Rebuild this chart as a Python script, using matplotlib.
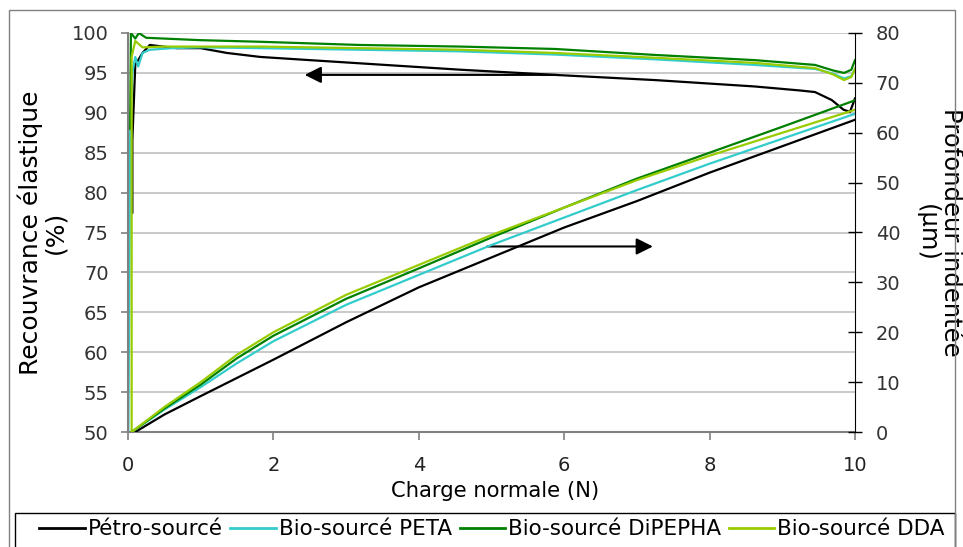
import matplotlib
matplotlib.use("Agg")
import matplotlib.pyplot as plt
from matplotlib.patches import Rectangle

plt.rcParams['font.family'] = ['DejaVu Sans']

# --- series labels / colours ---
labels = ["Pétro-sourcé", "Bio-sourcé PETA", "Bio-sourcé DiPEPHA", "Bio-sourcé DDA"]
colors = ["#000000", "#33CCCC", "#008000", "#99CC00"]

# --- recouvrance elastique (%), left axis ---
petro_rec_x = [0.06, 0.06, 0.1, 0.2, 0.3, 0.67, 1.0, 1.36, 1.82, 2.5, 3.19, 4.57, 5.87, 7.25, 8.62, 9.24, 9.45, 9.68, 9.84, 9.93, 10.0]
petro_rec = [77.5, 86.6, 96.0, 97.5, 98.5, 98.1, 98.1, 97.5, 97.0, 96.6, 96.2, 95.4, 94.75, 94.1, 93.3, 92.8, 92.6, 91.6, 90.4, 90.1, 91.8]

peta_rec_x = [0.005, 0.01, 0.03, 0.06, 0.1, 0.14, 0.2, 0.3, 0.6, 1.0, 1.82, 3.19, 4.57, 5.87, 7.25, 8.62, 9.45, 9.7, 9.85, 9.95, 10.0]
peta_rec = [50.0, 57.0, 88.0, 95.0, 97.0, 95.8, 97.5, 97.9, 98.1, 98.2, 98.1, 97.9, 97.7, 97.3, 96.7, 96.0, 95.5, 94.9, 94.3, 94.6, 95.5]

dipepha_rec_x = [0.03, 0.04, 0.1, 0.15, 0.25, 0.5, 1.0, 1.82, 3.19, 4.57, 5.87, 7.25, 8.62, 9.45, 9.7, 9.85, 9.95, 10.0]
dipepha_rec = [88.0, 100.0, 99.3, 100.0, 99.4, 99.3, 99.1, 98.9, 98.5, 98.3, 98.0, 97.25, 96.6, 96.0, 95.3, 95.0, 95.4, 96.6]

dda_rec_x = [0.05, 0.05, 0.1, 0.2, 0.5, 1.0, 1.82, 3.19, 4.57, 5.87, 7.25, 8.62, 9.45, 9.7, 9.85, 9.95, 10.0]
dda_rec = [50.0, 97.0, 99.0, 98.2, 98.3, 98.3, 98.3, 98.1, 97.9, 97.5, 96.9, 96.25, 95.6, 94.8, 94.1, 94.5, 95.5]

# --- profondeur indentee (um), right axis ---
petro_dep_x = [0.1, 0.5, 1, 2, 3, 4, 5, 6, 7, 8, 9, 10]
petro_dep = [0, 3.5, 7.2, 14.5, 22, 29, 35, 41, 46.3, 52, 57.3, 62.6]

bio_dep_x = [0.05, 0.5, 1, 1.5, 2, 3, 4, 5, 6, 7, 8, 9, 10]
peta_dep = [0, 4.5, 9, 13.8, 18.2, 25.5, 31.5, 37.5, 43, 48.5, 53.8, 58.8, 63.8]
dipepha_dep = [0, 4.7, 9.5, 14.8, 19.3, 26.7, 32.8, 39, 45, 50.8, 56, 61.2, 66.5]
dda_dep = [0, 5, 10, 15.5, 20, 27.5, 33.5, 39.5, 45, 50.5, 55.4, 60, 64.6]

# arrows pointing each group to its axis
arrow_left = ((5.9, 94.75), (2.43, 94.75))
arrow_right = ((4.94, 73.25), (7.22, 73.25))

fig = plt.figure(figsize=(9.63, 5.47), dpi=100)
ax = fig.add_axes([128/963, 1-432/547, (855-128)/963, (432-33)/547])
ax2 = ax.twinx()

rec_sets = [(petro_rec_x, petro_rec), (peta_rec_x, peta_rec),
            (dipepha_rec_x, dipepha_rec), (dda_rec_x, dda_rec)]
dep_sets = [(petro_dep_x, petro_dep), (bio_dep_x, peta_dep),
            (bio_dep_x, dipepha_dep), (bio_dep_x, dda_dep)]

handles = []
for (xs, ys), c, lab in zip(rec_sets, colors, labels):
    h, = ax.plot(xs, ys, color=c, lw=1.6, label=lab)
    handles.append(h)
for (xs, ys), c in zip(dep_sets, colors):
    ax2.plot(xs, ys, color=c, lw=1.6)

# left axis
ax.set_xlim(0, 10)
ax.set_ylim(50, 100)
ax.set_xticks(range(0, 11, 2))
ax.set_yticks(range(50, 101, 5))
ax.grid(axis='y', color='#C0C0C0', lw=1.2)
ax.set_axisbelow(True)
for s in ['top', 'right']:
    ax.spines[s].set_visible(False)
ax.spines['left'].set_color('#808080')
ax.spines['bottom'].set_color('#808080')
ax.spines['left'].set_linewidth(1.5)
ax.spines['bottom'].set_linewidth(1.5)
ax.tick_params(axis='y', direction='out', length=5, width=1.2, color='#808080', pad=9, labelsize=14, labelcolor='#333333')
ax.tick_params(axis='x', direction='out', length=6, width=1.2, color='#808080', pad=11, labelsize=14, labelcolor='#222222')

# right axis
ax2.set_ylim(0, 80)
ax2.set_yticks(range(0, 81, 10))
for s in ['top', 'left', 'bottom']:
    ax2.spines[s].set_visible(False)
ax2.spines['right'].set_color('#000000')
ax2.tick_params(axis='y', direction='inout', length=10, width=1.0, pad=10, labelsize=14, labelcolor='#333333')

ax.set_xlabel("Charge normale (N)", fontsize=15.2)
ax.xaxis.set_label_coords(0.505, -0.123)
ax.set_ylabel("Recouvrance élastique\n(%)", fontsize=18, linespacing=1.0, va='center')
ax.yaxis.set_label_coords(-0.118, 0.5)
ax2.set_ylabel("Profondeur indentée\n(µm)", fontsize=17.5, rotation=270, linespacing=1.0, va='center')
ax2.yaxis.set_label_coords(1.116, 0.5)

for tail, head in [arrow_left, arrow_right]:
    ax.annotate("", xy=head, xytext=tail,
                arrowprops=dict(arrowstyle='-|>', color='black', lw=1.5,
                                mutation_scale=25, shrinkA=0, shrinkB=0))

# legend: entries spread inside a separately drawn frame
leg = fig.legend(handles, labels, loc='upper left', bbox_to_anchor=(33/963, 1-513/547, 918/963, 0),
                 mode='expand', ncol=4, fontsize=15.5, frameon=False,
                 handlelength=2.1, handletextpad=0.15, columnspacing=0.5,
                 borderpad=0.3, borderaxespad=0)
for lh in leg.get_lines():
    lh.set_linewidth(2.0)
fig.patches.append(Rectangle((15/963, -0.05), 940/963, 0.05+1-513/547, transform=fig.transFigure,
                             fill=False, edgecolor='black', lw=1.0))

fig.patches.append(Rectangle((9/963, -0.05), (955-9)/963, 1.05-10/547, transform=fig.transFigure,
                             fill=False, edgecolor='#808080', lw=1.0))

fig.savefig("out.png", dpi=100)
